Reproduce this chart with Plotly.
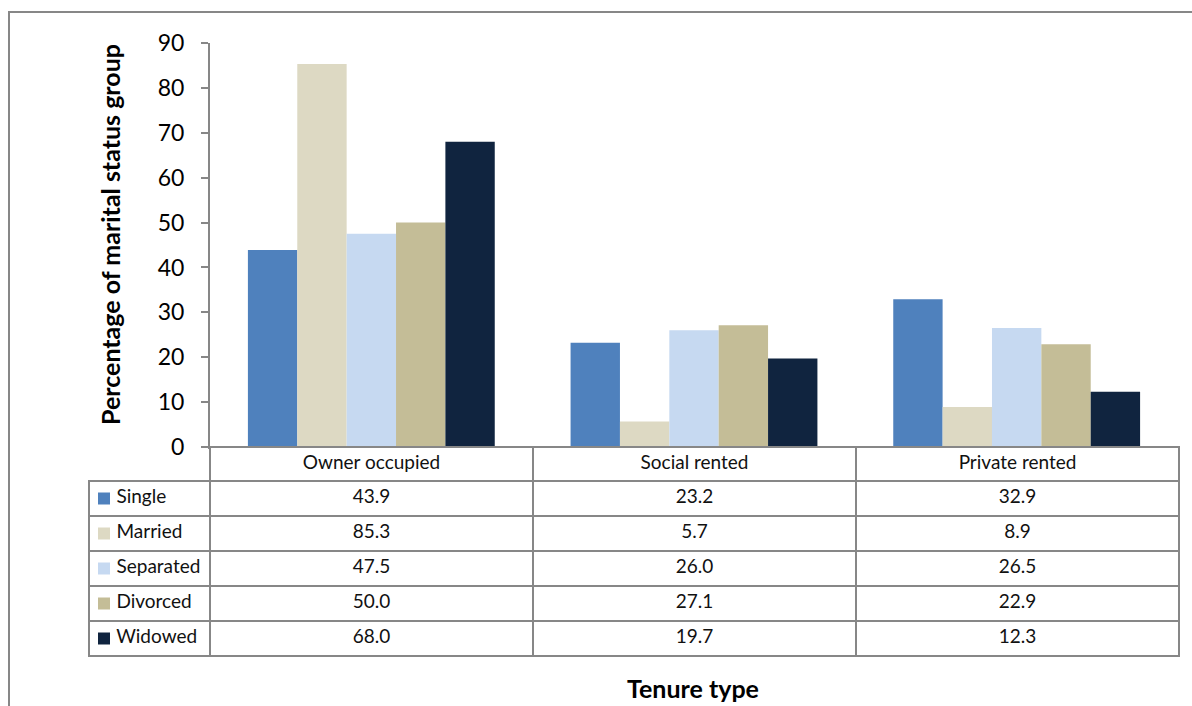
import plotly.graph_objects as go

categories = ["Owner occupied", "Social rented", "Private rented"]
series_names = ["Single", "Married", "Separated", "Divorced", "Widowed"]
single = [43.9, 23.2, 32.9]
married = [85.3, 5.7, 8.9]
separated = [47.5, 26.0, 26.5]
divorced = [50.0, 27.1, 22.9]
widowed = [68.0, 19.7, 12.3]
values = [single, married, separated, divorced, widowed]
colors = ["#4F81BD", "#DDD9C3", "#C6D9F1", "#C4BD97", "#10243F"]
y_ticks = [0, 10, 20, 30, 40, 50, 60, 70, 80, 90]

W, H = 1192, 706
FONT = "Lato"
GRAY = "#878787"

# table geometry (pixels)
TBL_LEFT, TBL_RIGHT = 89, 1179
HDR_TOP, HDR_H, ROW_H = 447, 34, 35


def px_x(p):
    return p / W


def px_y(p):
    return (H - p) / H


fig = go.Figure()
for name, vals, col in zip(series_names, values, colors):
    fig.add_trace(go.Bar(x=categories, y=vals, name=name, marker=dict(color=col, line=dict(width=0)),
                         showlegend=False, hoverinfo="x+y+name"))

# data table below chart
first_col = ["\u00a0\u00a0\u00a0\u00a0" + n for n in series_names]
table_cols = [first_col] + [[f"{values[s][i]:.1f}" for s in range(len(series_names))] for i in range(len(categories))]
tbl_bottom = HDR_TOP + HDR_H + ROW_H * len(series_names) + 3

fig.add_trace(go.Table(
    domain=dict(x=[px_x(TBL_LEFT), px_x(TBL_RIGHT)], y=[px_y(tbl_bottom), px_y(HDR_TOP)]),
    columnwidth=[121, 323, 323, 323],
    header=dict(values=[""] + categories,
                fill=dict(color=["rgba(0,0,0,0)", "white", "white", "white"]),
                line=dict(color=["rgba(0,0,0,0)", GRAY, GRAY, GRAY], width=2),
                align=["left", "center", "center", "center"],
                font=dict(family=FONT, size=19, color="#111111"),
                height=HDR_H),
    cells=dict(values=table_cols,
               fill=dict(color="white"),
               line=dict(color=GRAY, width=2),
               align=["left", "center", "center", "center"],
               font=dict(family=FONT, size=19, color="#111111"),
               height=ROW_H),
))

shapes = [dict(type="rect", xref="paper", yref="paper", x0=px_x(9), y0=px_y(740), x1=px_x(1230), y1=px_y(12),
               line=dict(color=GRAY, width=2), fillcolor="rgba(0,0,0,0)", layer="below")]
# legend keys in the table's first column
for i, c in enumerate(colors):
    cy = HDR_TOP + HDR_H + ROW_H * i + ROW_H / 2
    shapes.append(dict(type="rect", xref="paper", yref="paper",
                       x0=px_x(98), x1=px_x(110), y0=px_y(cy + 6), y1=px_y(cy - 6),
                       line=dict(width=0), fillcolor=c, layer="above"))

fig.update_layout(
    width=W, height=H,
    margin=dict(l=0, r=0, t=0, b=0),
    paper_bgcolor="white", plot_bgcolor="white",
    barmode="group", bargap=0.235, bargroupgap=0,
    font=dict(family=FONT, color="#000000"),
    xaxis=dict(domain=[px_x(210), px_x(1178)], showticklabels=False, ticks="", automargin=False,
               showline=True, linecolor=GRAY, linewidth=2, showgrid=False, zeroline=False),
    yaxis=dict(domain=[px_y(447), px_y(43)], range=[0, 90], tickvals=y_ticks, automargin=False,
               ticks="outside", ticklen=7, tickcolor=GRAY, tickwidth=2, ticklabelstandoff=12,
               showline=True, linecolor=GRAY, linewidth=2, showgrid=False, zeroline=False,
               tickfont=dict(family=FONT, size=23, color="#000000")),
    shapes=shapes,
    annotations=[
        dict(text="<b>Percentage of marital status group</b>", textangle=-90, x=px_x(110), y=px_y(235),
             xanchor="center", yanchor="middle",
             xref="paper", yref="paper", showarrow=False, font=dict(family=FONT, size=25, color="#000000")),
        dict(text="<b>Tenure type</b>", x=px_x(693), y=px_y(688), xanchor="center", yanchor="middle",
             xref="paper", yref="paper",
             showarrow=False, font=dict(family=FONT, size=25, color="#000000")),
    ],
)

fig.write_html("out.html", config={"displayModeBar": False},
               post_script="document.body.style.margin='0';document.body.style.padding='0';")
